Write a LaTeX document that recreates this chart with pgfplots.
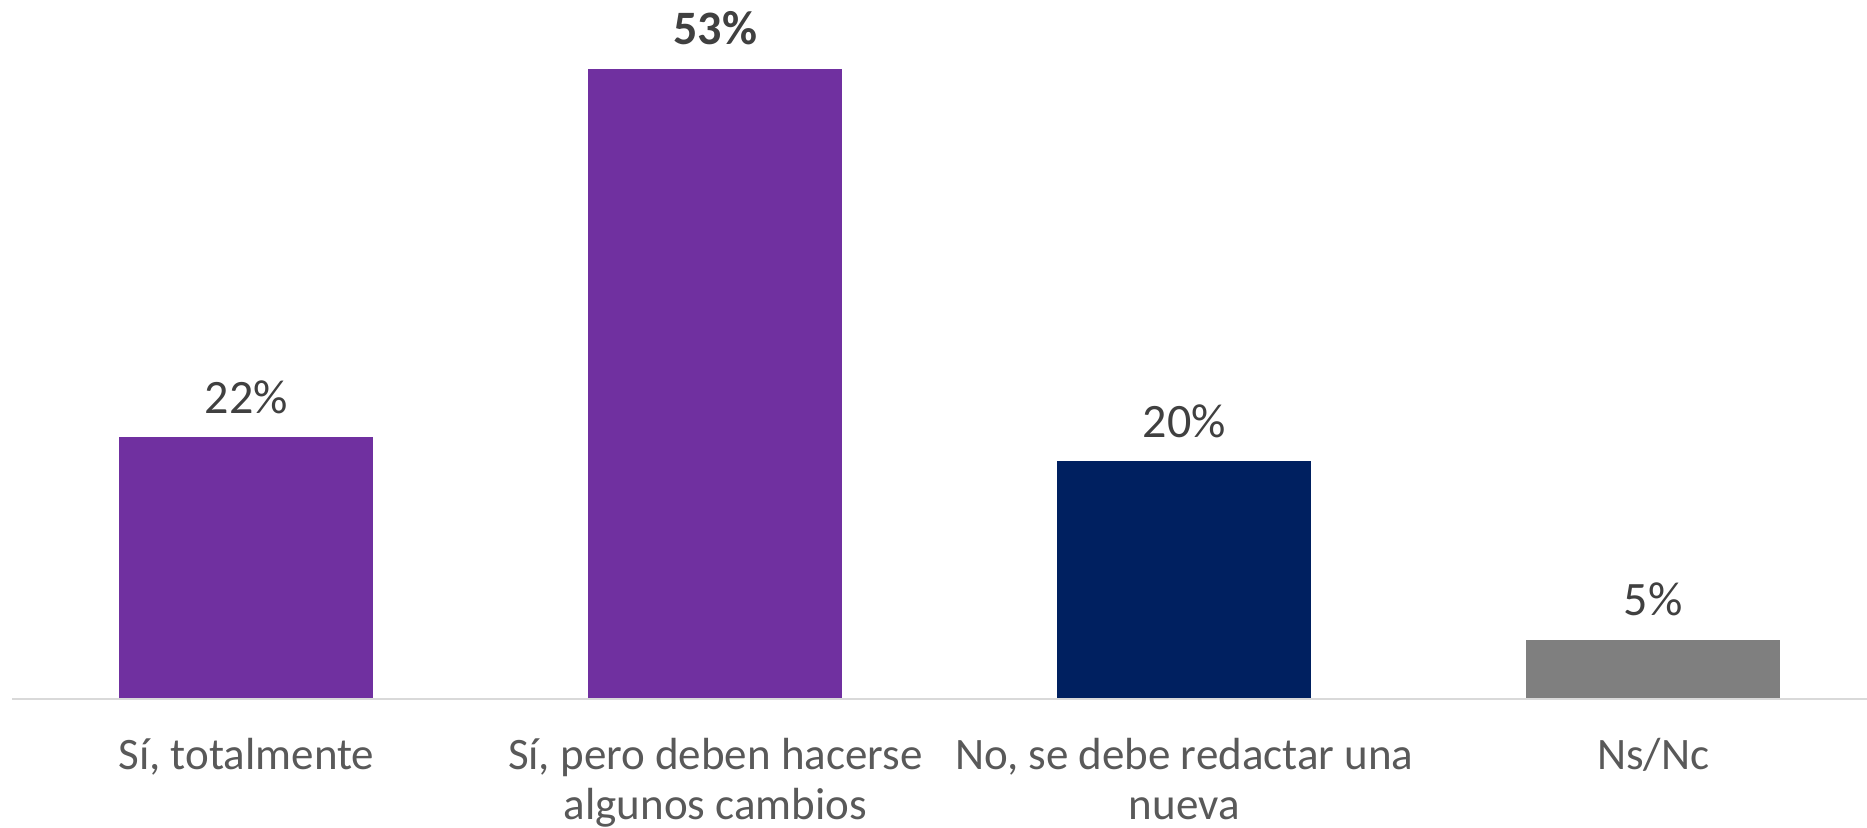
\documentclass[border=0pt]{standalone}
\usepackage{fontspec}
\setmainfont{Carlito}
\usepackage{pgfplots}
\pgfplotsset{compat=1.18}
\definecolor{cpurple}{HTML}{7030A0}
\definecolor{cnavy}{HTML}{002060}
\definecolor{cgray}{HTML}{7F7F7F}
\definecolor{caxis}{HTML}{D9D9D9}
\definecolor{ctick}{HTML}{595959}
\definecolor{clabel}{HTML}{404040}
\newcommand{\twol}[2]{\begin{tabular}[t]{@{}c@{}}#1\\#2\end{tabular}}
\begin{document}
\begin{tikzpicture}
\path[use as bounding box] (0,0) rectangle (933.5pt,413.5pt);
\begin{axis}[
  at={(6pt,64pt)}, anchor=south west,
  scale only axis,
  width=927.5pt, height=349.5pt,
  xmin=-0.5, xmax=3.456,
  ymin=0, ymax=58.8,
  clip=false,
  axis line style={draw=none},
  axis x line*=bottom,
  hide y axis,
  ybar, bar width=0.5416, bar shift=0pt,
  xtick={0,1,2,3},
  xticklabels={{Sí, totalmente},{\twol{Sí, pero deben hacerse}{algunos cambios}},{\twol{No, se debe redactar una}{nueva}},{Ns/Nc}},
  major tick length=0pt,
  xticklabel style={font=\fontsize{22.5pt}{25pt}\selectfont, text=ctick, anchor=base, yshift=-35pt, inner sep=0pt},
  /pgf/number format/assume math mode=true,
  nodes near coords={\pgfmathprintnumber{\pgfplotspointmeta}\%},
  nodes near coords style={font=\fontsize{24pt}{28pt}\selectfont, text=clabel, anchor=base, yshift=12pt, inner sep=0pt},
]
\addplot[fill=cpurple, draw=none] coordinates {(0,22)};
\addplot[fill=cpurple, draw=none, nodes near coords style={font=\fontsize{24pt}{28pt}\selectfont\bfseries}] coordinates {(1,53)};
\addplot[fill=cnavy, draw=none] coordinates {(2,20)};
\addplot[fill=cgray, draw=none] coordinates {(3,5)};
\draw[caxis, line width=1.2pt] (axis cs:-0.5,0) -- (axis cs:3.456,0);
\end{axis}
\end{tikzpicture}
\end{document}
